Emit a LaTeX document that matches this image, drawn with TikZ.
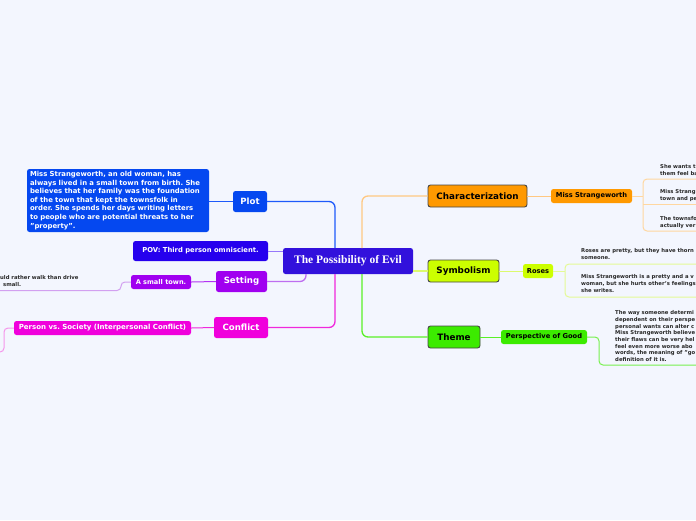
\documentclass[tikz,border=0pt]{standalone}
\usepackage{fontspec}
\setmainfont{DejaVu Sans}
\newfontfamily\titlefont{Liberation Serif}
\frenchspacing
\definecolor{bg}{RGB}{243,246,254}
\definecolor{cen}{RGB}{50,17,220}
\definecolor{plotc}{RGB}{5,72,240}
\definecolor{povc}{RGB}{38,0,238}
\definecolor{setc}{RGB}{160,0,240}
\definecolor{confc}{RGB}{240,0,220}
\definecolor{charc}{RGB}{255,153,0}
\definecolor{symc}{RGB}{204,255,0}
\definecolor{themec}{RGB}{60,235,0}
\definecolor{plotl}{RGB}{30,90,250}
\definecolor{povl}{RGB}{150,120,250}
\definecolor{setl}{RGB}{190,110,240}
\definecolor{setll}{RGB}{210,160,240}
\definecolor{confl}{RGB}{240,40,220}
\definecolor{confll}{RGB}{245,150,235}
\definecolor{charl}{RGB}{255,200,130}
\definecolor{charll}{RGB}{255,215,160}
\definecolor{syml}{RGB}{220,250,110}
\definecolor{symll}{RGB}{228,250,150}
\definecolor{themel}{RGB}{90,240,40}
\definecolor{themell}{RGB}{120,240,80}
\definecolor{leaftxt}{RGB}{40,40,40}
\definecolor{bord}{RGB}{70,70,70}
\tikzset{
  box/.style={rounded corners=2.5pt, inner sep=0pt, align=center},
  mainlbl/.style={box, text=white, font=\fontsize{8.6}{10}\selectfont\bfseries},
  rmain/.style={box, draw=bord, line width=0.9pt, text=black, font=\fontsize{8.8}{10}\selectfont\bfseries},
  subw/.style={box, text=white, font=\fontsize{6.8}{8}\selectfont\bfseries},
  subb/.style={box, text=black, font=\fontsize{6.7}{8}\selectfont\bfseries},
  leaf/.style={anchor=north west, inner sep=0pt, align=left, text=leaftxt, font=\fontsize{5.3}{6.7}\selectfont\bfseries},
  conn/.style={line width=1.3pt, rounded corners=6pt},
  sconn/.style={line width=1pt, rounded corners=4pt}
}
\begin{document}
\begin{tikzpicture}[x=1pt,y=-1pt]
\useasboundingbox (0,0) rectangle (696,520);
\clip (0,0) rectangle (696,520);
\fill[bg] (0,0) rectangle (696,520);

% central
\node[box, fill=cen, text=white, minimum width=130pt, minimum height=26pt, font=\titlefont\fontsize{11.5}{13}\selectfont\bfseries] (cen) at (348,261) {The Possibility of Evil};

% left side
\node[mainlbl, fill=plotc, minimum width=34pt, minimum height=21pt] (plot) at (250,201.5) {Plot};
\node[box, fill=plotc, text=white, minimum width=182pt, minimum height=63pt, text width=176pt, align=left, font=\fontsize{6.9}{8.6}\selectfont\bfseries] (plotdet) at (118,200.5) {Miss Strangeworth, an old woman, has\\always lived in a small town from birth. She\\believes that her family was the foundation\\of the town that kept the townsfolk in\\order. She spends her days writing letters\\to people who are potential threats to her\\"property".};
\node[subw, fill=povc, minimum width=135pt, minimum height=20pt] (pov) at (200.5,251) {POV: Third person omniscient.};
\node[mainlbl, fill=setc, minimum width=51pt, minimum height=21pt] (setting) at (241.5,281.5) {Setting};
\node[subw, fill=setc, minimum width=60pt, minimum height=14pt, font=\fontsize{6.6}{8}\selectfont\bfseries] (town) at (161,282) {A small town.};
\node[leaf] (townleaf) at (0,275.5) {uld rather walk than drive\\\hspace*{3pt}small.};
\node[mainlbl, fill=confc, minimum width=54pt, minimum height=21pt] (conflict) at (241,327.5) {Conflict};
\node[subw, fill=confc, minimum width=177pt, minimum height=14pt, font=\fontsize{7}{8}\selectfont\bfseries] (pvs) at (102.5,328) {Person vs. Society (Interpersonal Conflict)};
\coordinate (pvsend) at (0,352);
\coordinate (townend) at (0,290.5);

% right side
\node[rmain, fill=charc, minimum width=99pt, minimum height=22pt] (char) at (477.5,196) {Characterization};
\node[subb, fill=charc, minimum width=81pt, minimum height=14pt] (ms) at (591.5,196) {Miss Strangeworth};
\node[leaf] (c1) at (660,164.5) {She wants t\\them feel ba};
\node[leaf] (c2) at (660,189.5) {Miss Strang\\town and pe};
\node[leaf] (c3) at (660,216.5) {The townsfo\\actually ver};
\node[rmain, fill=symc, minimum width=71pt, minimum height=22pt] (sym) at (463.5,271) {Symbolism};
\node[subb, fill=symc, minimum width=30pt, minimum height=14pt] (roses) at (538,271) {Roses};
\node[leaf] (r1) at (581,248.5) {Roses are pretty, but they have thorn\\someone.};
\node[leaf] (r2) at (581,274.5) {Miss Strangeworth is a pretty and a v\\woman, but she hurts other's feelings\\she writes.};
\node[rmain, fill=themec, minimum width=52pt, minimum height=22pt] (theme) at (454,337) {Theme};
\node[subb, fill=themec, minimum width=86pt, minimum height=14pt] (pg) at (544,337) {Perspective of Good};
\node[leaf] (t1) at (615,310.5) {The way someone determi\\dependent on their perspe\\personal wants can alter c\\Miss Strangeworth believe\\their flaws can be very hel\\feel even more worse abo\\words, the meaning of "go\\definition of it is.};
\coordinate (rend) at (696,0);

% connectors from center
\draw[conn, plotl] (plot.east) -- (335,201.5) -- (335,248);
\draw[sconn, povl] (pov.east) -- (cen.west |- pov.east);
\draw[conn, setl] (306,274) -- (306,281.5) -- (setting.east);
\draw[conn, confl] (335,274) -- (335,327.5) -- (conflict.east);
\draw[conn, charl] (362,248) -- (362,196) -- (char.west);
\draw[conn, syml] (cen.east |- sym.west) -- (sym.west);
\draw[conn, themel] (362,274) -- (362,337) -- (theme.west);

% sub connectors
\draw[sconn, plotl] (plotdet.east |- plot.west) -- (plot.west);
\draw[sconn, setc!80!white] (town.east) -- (setting.west);
\draw[sconn, setll] (town.west) -- (121,282) -- (121,290.5) -- (townend);
\draw[sconn, confl] (pvs.east) -- (conflict.west);
\draw[sconn, confll] (pvs.west) -- (4,328) -- (4,352) -- (pvsend);
\draw[sconn, charl] (char.east) -- (ms.west);
\draw[sconn, charll] (ms.east) -- (643,196);
\draw[sconn, charll] (rend |- 0,179) -- (643,179) -- (643,231) -- (rend |- 0,231);
\draw[sconn, charll] (643,204.5) -- (rend |- 0,204.5);
\draw[sconn, syml] (sym.east) -- (roses.west);
\draw[sconn, symll] (roses.east) -- (565,271);
\draw[sconn, symll] (rend |- 0,264) -- (565,264) -- (565,297) -- (rend |- 0,297);
\draw[sconn, themel] (theme.east) -- (pg.west);
\draw[sconn, themell] (pg.east) -- (599,337) -- (599,365) -- (rend |- 0,365);
\end{tikzpicture}
\end{document}
